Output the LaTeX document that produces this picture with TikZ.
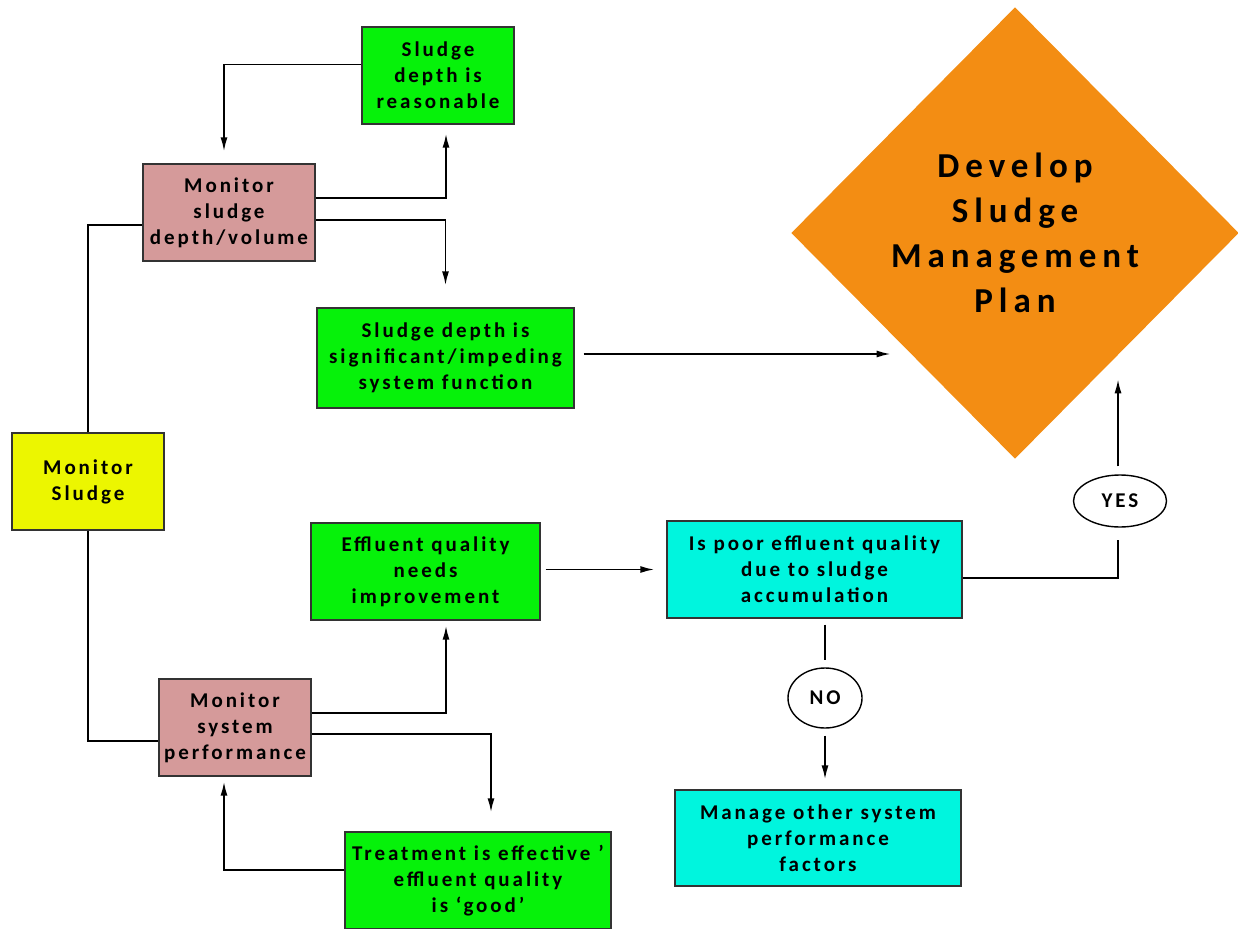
\documentclass[tikz,border=0pt]{standalone}
\usepackage{fontspec}
\newfontfamily\flowfont[LetterSpace=14]{Carlito}
\newfontfamily\planfont[LetterSpace=17]{Carlito}
\usetikzlibrary{arrows.meta,shapes.geometric}
\definecolor{okgreen}{RGB}{6,242,10}
\definecolor{monpink}{RGB}{213,154,154}
\definecolor{monyellow}{RGB}{236,246,0}
\definecolor{askcyan}{RGB}{0,245,222}
\definecolor{planorange}{RGB}{243,141,19}
\tikzset{
    %Define standard arrow tip
    >={Latex[length=14pt,width=7pt]},
    %Define style for boxes
    flowbox/.style={
           rectangle,
           draw=black!80, line width=1.4pt,
           inner sep=0pt,
           align=center,
           font=\flowfont\bfseries\fontsize{21}{26}\selectfont},
    outcome/.style={flowbox, fill=okgreen},
    monitor/.style={flowbox, fill=monpink, minimum height=97pt},
    question/.style={flowbox, fill=askcyan},
    answer/.style={
           ellipse,
           draw=black, line width=1.4pt,
           inner sep=0pt,
           fill=white,
           font=\flowfont\bfseries\fontsize{21}{24}\selectfont},
    plan/.style={
           diamond,
           fill=planorange,
           inner sep=0pt,
           align=center,
           font=\planfont\bfseries\fontsize{35}{45}\selectfont},
    % Define arrow style
    pil/.style={
           line width=1.7pt}
}
\begin{document}
\begin{tikzpicture}[x=1pt,y=-1pt,pil]
\useasboundingbox (0,0) rectangle (1238,928);
\node[outcome, minimum width=152pt, minimum height=97pt] (ok) at (438,75.5) {Sludge\\depth is\\reasonable};
\node[monitor, minimum width=172pt] (mdepth) at (229,212.5) {Monitor\\sludge\\depth/volume};
\node[outcome, minimum width=257pt, minimum height=100pt] (sig) at (445.5,358) {Sludge depth is\\significant/impeding\\system function};
\node[flowbox, fill=monyellow, minimum width=152pt, minimum height=97pt] (msludge) at (88,481.5) {Monitor\\Sludge};
\node[outcome, minimum width=229pt, minimum height=97pt] (improve) at (425.5,571.5) {Effluent quality\\needs\\improvement};
\node[monitor, minimum width=152pt] (mperf) at (235,727.5) {Monitor\\system\\performance};
\node[outcome, minimum width=266pt, minimum height=97pt] (good) at (478,880.5) {Treatment is effective\hspace{8pt}’\\effluent quality\\is ‘good’};
\node[question, minimum width=295pt, minimum height=97pt] (cause) at (814.5,569.5) {Is poor effluent quality\\due to sludge\\accumulation};
\node[question, minimum width=286pt, minimum height=96pt] (other) at (818,838) {Manage other system\\performance\\factors};
\node[plan, minimum width=448pt, minimum height=452pt] (plan) at (1015,233) {Develop\\Sludge\\Management\\Plan};
\node[answer, minimum width=93pt, minimum height=52pt] (yes) at (1120,501) {YES};
\node[answer, minimum width=74pt, minimum height=60pt] (no) at (825,698) {NO};

\draw[->, shorten >=12pt] ([yshift=11pt]ok.west) -| ([xshift=-5pt]mdepth.north);
\draw[->, shorten >=9pt] ([yshift=14.5pt]mdepth.east) -| ([xshift=8pt]ok.south);
\draw[->, shorten >=22pt] ([yshift=-7.5pt]mdepth.east) -| (sig.north);
\draw[->, shorten <=9pt, shorten >=12pt] ([yshift=4pt]sig.east) -- ([yshift=4pt]sig.east -| plan.south west);
\draw (msludge.north) |- ([yshift=-12.5pt]mdepth.west);
\draw (msludge.south) |- ([yshift=-13.5pt]mperf.west);
\draw[->, shorten >=5pt] ([yshift=14.5pt]mperf.east) -| ([xshift=20.5pt]improve.south);
\draw[->, shorten >=19pt] ([yshift=-6.5pt]mperf.east) -| ([xshift=13pt]good.north);
\draw[->, shorten >=5pt] ([yshift=10.5pt]good.west) -| ([xshift=-11pt]mperf.south);
\draw[->, shorten <=5pt, shorten >=12pt] (improve.east |- cause.west) -- (cause.west);
\draw[shorten >=12pt] ([yshift=-8.5pt]cause.east) -| ([xshift=-2pt]yes.south);
\draw[->, shorten <=8pt] ([xshift=-2pt]yes.north) -- ([xshift=-2pt,yshift=95pt]yes.north);
\draw[shorten <=6pt, shorten >=7pt] (cause.south -| no.north) -- (no.north);
\draw[->, shorten <=7pt, shorten >=10pt] (no.south) -- (no.south |- other.north);
\end{tikzpicture}
\end{document}
